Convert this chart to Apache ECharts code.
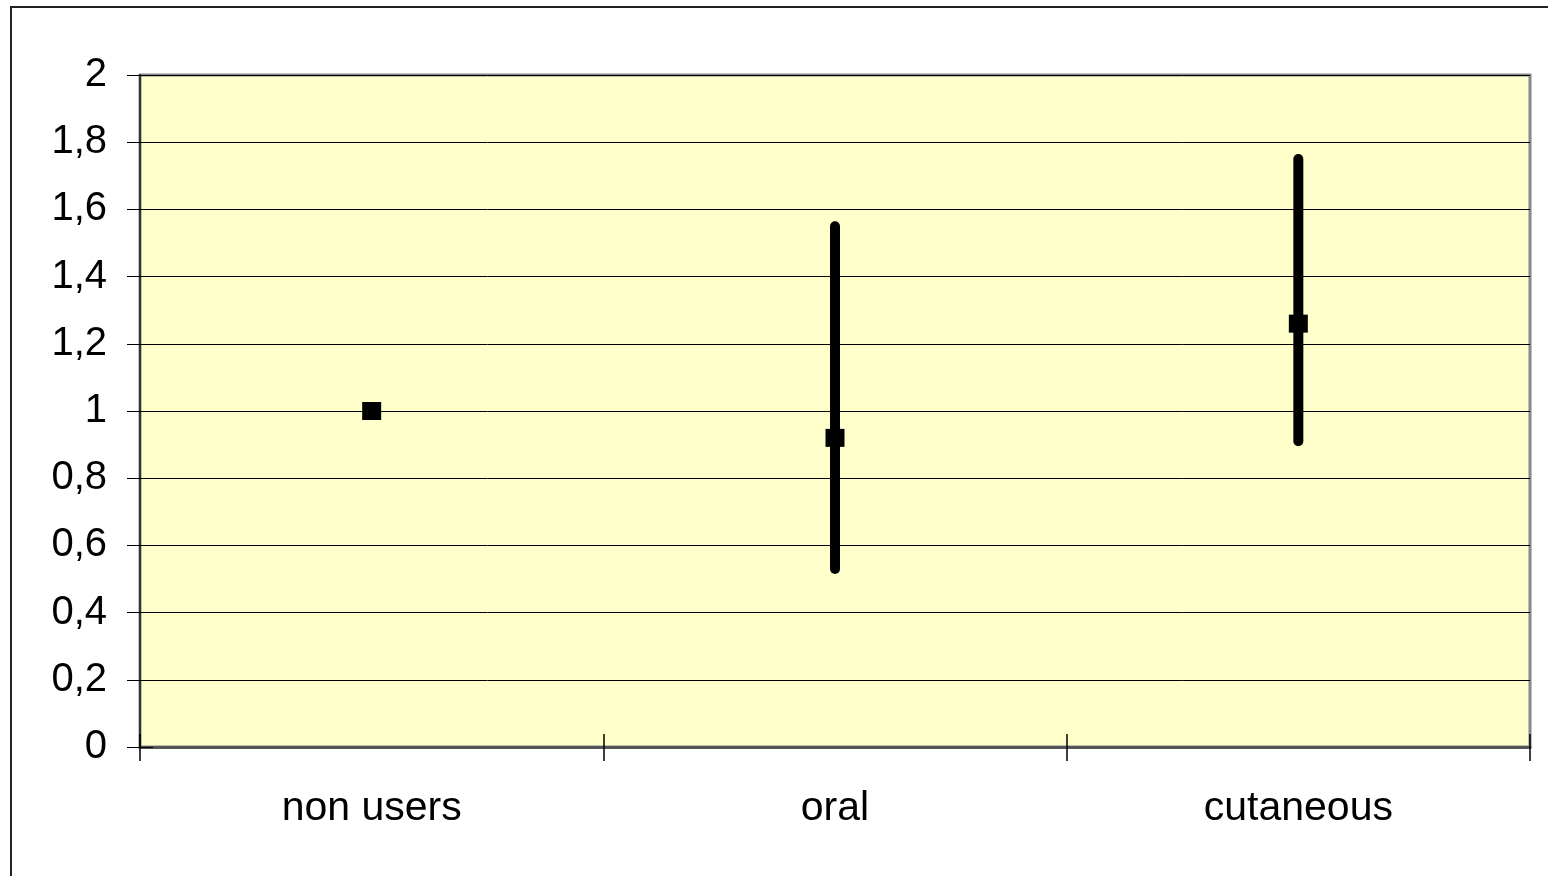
<!DOCTYPE html>
<html>
<head>
    <meta charset="utf-8">
    <title>Error bars</title>
    <script src="https://cdn.jsdelivr.net/npm/echarts@6/dist/echarts.min.js"></script>
    <style>
        html, body { margin: 0; padding: 0; background: #fff; }
    </style>
</head>
<body>
    <div id="chart" style="width: 1548px; height: 876px;"></div>

    <script type="text/javascript">
        // data
        var categories = ['non users', 'oral', 'cutaneous'];
        var estimates = [1.0, 0.92, 1.26];
        var lower = [null, 0.53, 0.91];
        var upper = [null, 1.55, 1.75];

        var chart = echarts.init(document.getElementById('chart'));

        // error bar data: [category index, low, high]
        var barData = [];
        for (var i = 0; i < categories.length; i++) {
            if (lower[i] != null && upper[i] != null) {
                barData.push([i, lower[i], upper[i]]);
            }
        }

        var fontFamily = 'Liberation Sans, Arial, sans-serif';

        var option = {
            animation: false,
            graphic: [{
                // outer frame
                type: 'rect',
                shape: { x: 11, y: 7, width: 1700, height: 1000 },
                style: { fill: 'none', stroke: '#222', lineWidth: 2 },
                silent: true
            }],
            grid: {
                left: 140, right: 18, top: 75, bottom: 129,
                show: true,
                backgroundColor: '#FFFFCC',
                borderColor: '#888',
                borderWidth: 3
            },
            xAxis: [{
                type: 'category',
                data: categories,
                boundaryGap: true,
                axisLine: { lineStyle: { color: '#555', width: 3 } },
                axisTick: { show: true, length: 14, lineStyle: { color: '#000', width: 1.5 } },
                axisLabel: { color: '#000', fontSize: 41, fontFamily: fontFamily, margin: 41 },
                splitLine: { show: false }
            }, {
                // inner half of the crossing ticks
                type: 'category',
                data: categories,
                position: 'bottom',
                boundaryGap: true,
                axisLine: { show: false },
                axisTick: { show: true, inside: true, length: 13, lineStyle: { color: '#000', width: 1.5 } },
                axisLabel: { show: false },
                splitLine: { show: false }
            }],
            yAxis: [{
                type: 'value',
                min: 0, max: 2, interval: 0.2,
                axisLine: { show: true, lineStyle: { color: '#333', width: 2 } },
                axisTick: { show: true, length: 13, lineStyle: { color: '#000', width: 1 } },
                axisLabel: {
                    color: '#000', fontSize: 40, fontFamily: fontFamily, margin: 33,
                    formatter: function (v) {
                        return (+v.toFixed(1)).toString().replace('.', ',');
                    }
                },
                splitLine: { show: true, lineStyle: { color: '#000', width: 1 } }
            }, {
                type: 'value',
                min: 0, max: 2, interval: 0.2,
                position: 'left',
                axisLine: { show: false },
                axisTick: { show: true, inside: true, length: 13, lineStyle: { color: '#000', width: 1 } },
                axisLabel: { show: false },
                splitLine: { show: false }
            }],
            series: [{
                type: 'custom',
                name: 'ci',
                data: barData,
                encode: { x: 0, y: [1, 2] },
                z: 2,
                renderItem: function (params, api) {
                    var p1 = api.coord([api.value(0), api.value(1)]);
                    var p2 = api.coord([api.value(0), api.value(2)]);
                    return {
                        type: 'line',
                        shape: { x1: p1[0], y1: p1[1], x2: p2[0], y2: p2[1] },
                        style: { stroke: '#000', lineWidth: 10, lineCap: 'round' }
                    };
                }
            }, {
                type: 'scatter',
                name: 'estimate',
                data: estimates,
                symbol: 'rect',
                symbolSize: [19, 18],
                itemStyle: { color: '#000', opacity: 1 },
                z: 3
            }]
        };

        chart.setOption(option);
    </script>
</body>
</html>
